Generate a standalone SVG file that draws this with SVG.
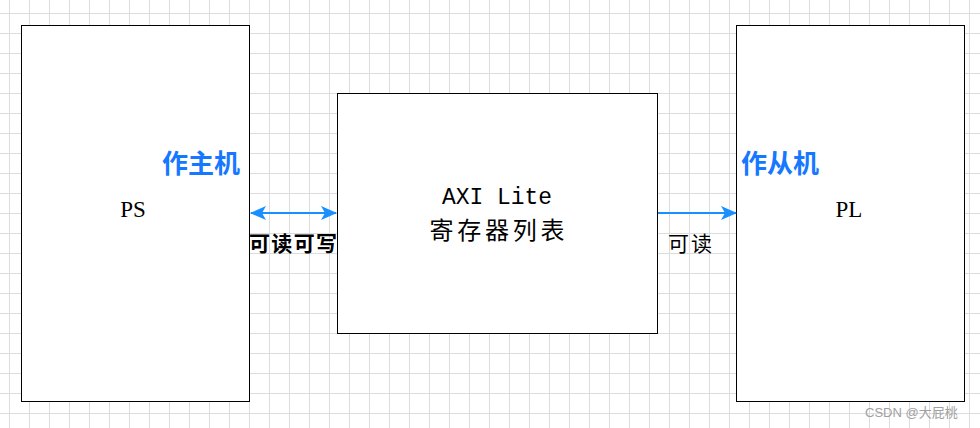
<svg xmlns="http://www.w3.org/2000/svg" width="980" height="428" viewBox="0 0 980 428">
<defs>
<pattern id="grid" x="9" y="13" width="20" height="20" patternUnits="userSpaceOnUse">
<path d="M0.5,0 V20 M0,0.5 H20" fill="none" stroke="#dcdcdc" stroke-width="1"/>
</pattern>
<marker id="ah" viewBox="0 0 16 16" refX="15" refY="8" markerWidth="16" markerHeight="16" markerUnits="userSpaceOnUse" orient="auto-start-reverse">
<path d="M0,1 L16,8 L0,15 L4,8 Z" fill="#1890ff"/>
</marker>
</defs>
<style>
.box{fill:#fff;stroke:#000;stroke-width:1}
.lbl{font-family:"Liberation Serif","Noto Sans CJK SC",serif;font-size:23px;fill:#000}
.cn{font-family:"Noto Sans CJK SC",sans-serif;fill:#000}
.role{font-family:"Noto Sans CJK SC",sans-serif;font-size:26px;font-weight:bold;fill:#1677ff}
.conn{stroke:#1890ff;stroke-width:2;fill:none}
</style>
<rect width="980" height="428" fill="#fff"/>
<rect width="980" height="428" fill="url(#grid)"/>
<g id="ps">
<rect class="box" x="21.5" y="25.5" width="228" height="376"/>
<text class="lbl" x="133" y="217" text-anchor="middle">PS</text>
<text class="role" x="162" y="173">作主机</text>
</g>
<g id="axi">
<rect class="box" x="337.5" y="93.5" width="320" height="240"/>
<text x="497" y="204" text-anchor="middle" font-family="Liberation Mono, monospace" font-size="23" textLength="110" lengthAdjust="spacingAndGlyphs">AXI Lite</text>
<text class="cn" x="497" y="239" text-anchor="middle" font-size="24" textLength="135" lengthAdjust="spacing">寄存器列表</text>
</g>
<g id="pl">
<rect class="box" x="736.5" y="25.5" width="228" height="376"/>
<text class="lbl" x="849" y="217" text-anchor="middle">PL</text>
<text class="role" x="741" y="173">作从机</text>
</g>
<g id="connectors">
<line class="conn" x1="251" y1="213" x2="336" y2="213" marker-start="url(#ah)" marker-end="url(#ah)"/>
<line class="conn" x1="658" y1="213" x2="736" y2="213" marker-end="url(#ah)"/>
<text class="cn" x="249" y="251" font-size="21" font-weight="bold" textLength="88" lengthAdjust="spacing">可读可写</text>
<text class="cn" x="668" y="251" font-size="21" textLength="44" lengthAdjust="spacing">可读</text>
</g>
<text x="865" y="417" font-family="Liberation Sans, Noto Sans CJK SC, sans-serif" font-size="13" fill="#a0a0a0">CSDN @大屁桃</text>
</svg>
